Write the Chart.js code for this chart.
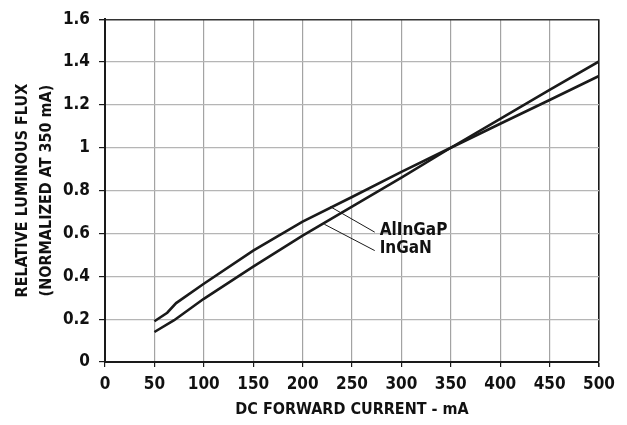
<!DOCTYPE html>
<html>
<head>
<meta charset="utf-8">
<script src="https://cdn.jsdelivr.net/npm/chart.js@4.4.1/dist/chart.umd.min.js"></script>
<style>
  html, body { margin: 0; padding: 0; background: #fff; }
  #wrap { width: 627px; height: 425px; position: relative; }
</style>
</head>
<body>
<div id="wrap"><canvas id="flux"></canvas></div>
<script>
// valori (corrente mA -> flusso relativo)
const alingapCurrent = [50, 63, 72, 100, 150, 200, 250, 300, 350, 400, 450, 500];
const alingapFlux    = [0.19, 0.23, 0.275, 0.365, 0.52, 0.655, 0.77, 0.887, 1.0, 1.112, 1.223, 1.335];
const inganCurrent   = [50, 70, 100, 150, 200, 250, 300, 350, 400, 450, 500];
const inganFlux      = [0.14, 0.195, 0.295, 0.445, 0.59, 0.725, 0.86, 1.0, 1.135, 1.27, 1.403];

const xTicks      = [0, 50, 100, 150, 200, 250, 300, 350, 400, 450, 500];
const yTicks      = [0, 0.2, 0.4, 0.6, 0.8, 1, 1.2, 1.4, 1.6];
const yTickLabels = ['0', '0.2', '0.4', '0.6', '0.8', '1', '1.2', '1.4', '1.6'];

const seriesNames = ['AlInGaP', 'InGaN'];

// etichette con linea di richiamo (coordinate nei valori degli assi)
const callouts = [
  { text: seriesNames[0], from: [228, 0.725], to: [273, 0.606], at: [278, 0.614] },
  { text: seriesNames[1], from: [222, 0.643], to: [273, 0.52],  at: [278, 0.529] }
];

const FONT = "'Liberation Sans Narrow', 'DejaVu Sans Condensed', sans-serif";

function toPoints(xs, ys) {
  return xs.map((x, i) => ({ x: x, y: ys[i] }));
}

const calloutPlugin = {
  id: 'callouts',
  afterDatasetsDraw(chart) {
    const { ctx, scales: { x, y } } = chart;
    ctx.save();
    ctx.strokeStyle = '#1a1a1a';
    ctx.lineWidth = 1;
    ctx.fillStyle = '#111';
    ctx.font = 'bold 17px ' + FONT;
    ctx.textAlign = 'left';
    ctx.textBaseline = 'middle';
    callouts.forEach(c => {
      ctx.beginPath();
      ctx.moveTo(x.getPixelForValue(c.from[0]), y.getPixelForValue(c.from[1]));
      ctx.lineTo(x.getPixelForValue(c.to[0]), y.getPixelForValue(c.to[1]));
      ctx.stroke();
      ctx.fillText(c.text, x.getPixelForValue(c.at[0]), y.getPixelForValue(c.at[1]));
    });
    ctx.restore();
  }
};

const lineStyle = {
  borderColor: '#1a1a1a',
  borderWidth: 2.6,
  pointRadius: 0,
  tension: 0,
  fill: false
};

new Chart(document.getElementById('flux'), {
  type: 'line',
  data: {
    datasets: [
      Object.assign({ label: seriesNames[0], data: toPoints(alingapCurrent, alingapFlux) }, lineStyle),
      Object.assign({ label: seriesNames[1], data: toPoints(inganCurrent, inganFlux) }, lineStyle)
    ]
  },
  options: {
    responsive: true,
    maintainAspectRatio: false,
    animation: false,
    layout: { padding: { left: 0, right: 28, top: 16, bottom: 0 } },
    plugins: { legend: { display: false }, tooltip: { enabled: false } },
    scales: {
      x: {
        type: 'linear',
        min: 0,
        max: 500,
        afterBuildTicks: s => { s.ticks = xTicks.map(v => ({ value: v })); },
        afterFit: s => { s.height = 63; },
        ticks: {
          color: '#111',
          font: { family: FONT, size: 17, weight: 'bold' },
          padding: 7,
          maxRotation: 0,
          autoSkip: false
        },
        grid: {
          color: c => (c.tick && c.tick.value === 500 ? '#1a1a1a' : '#a3a3a3'),
          lineWidth: c => (c.tick && c.tick.value === 500 ? 1.6 : 1.2),
          tickColor: '#1a1a1a',
          tickLength: 5
        },
        border: { color: '#1a1a1a', width: 2 },
        title: {
          display: true,
          text: 'DC FORWARD CURRENT - mA',
          color: '#111',
          font: { family: FONT, size: 16, weight: 'bold' },
          padding: { top: 0, bottom: 6 }
        }
      },
      y: {
        type: 'linear',
        min: 0,
        max: 1.6,
        afterBuildTicks: s => { s.ticks = yTicks.map(v => ({ value: v })); },
        afterFit: s => { s.width = 105; },
        ticks: {
          color: '#111',
          font: { family: FONT, size: 17, weight: 'bold' },
          padding: 9,
          callback: (v, i) => yTickLabels[i]
        },
        grid: {
          color: c => (c.tick && c.tick.value === 1.6 ? '#333' : '#b5b5b5'),
          lineWidth: c => (c.tick && c.tick.value === 1.6 ? 1.4 : 1.2),
          tickColor: '#1a1a1a',
          tickLength: 6
        },
        border: { color: '#1a1a1a', width: 2 },
        title: {
          display: true,
          text: ['RELATIVE LUMINOUS FLUX', '(NORMALIZED AT 350 mA)'],
          color: '#111',
          font: { family: FONT, size: 16, weight: 'bold', lineHeight: 1.5 },
          padding: { top: 11, bottom: 0 }
        }
      }
    }
  },
  plugins: [calloutPlugin]
});
</script>
</body>
</html>
